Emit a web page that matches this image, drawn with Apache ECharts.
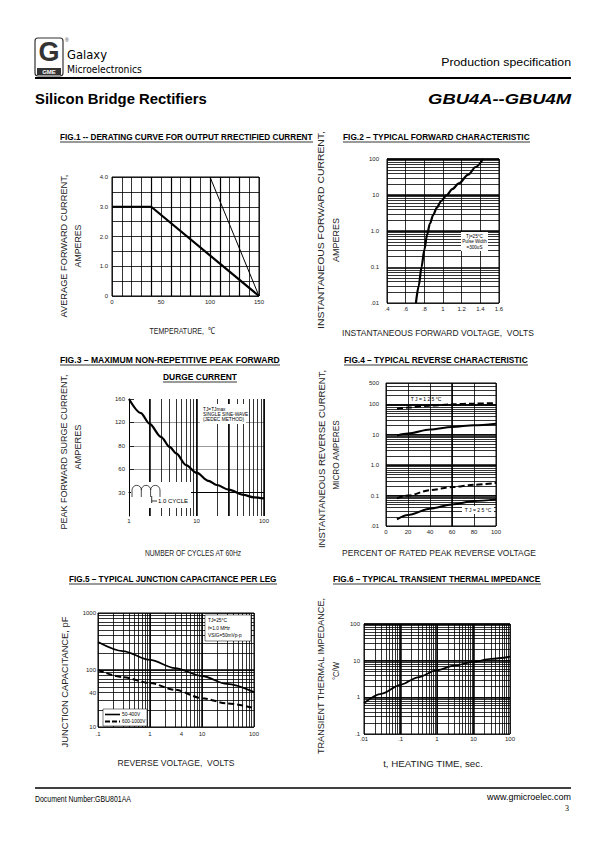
<!DOCTYPE html>
<html>
<head>
<meta charset="utf-8">
<script src="https://cdn.jsdelivr.net/npm/echarts@6.0.0/dist/echarts.min.js"></script>
<style>
html,body{margin:0;padding:0;background:#fff;}
#chart{width:595px;height:842px;}
</style>
</head>
<body>
<div id="chart"></div>
<script>
// ================= DATA =================
// FIG.1 derating curve
const fig1TempTicks = [0, 50, 100, 150];
const fig1CurrTicks = [0, 1, 2, 3, 4];
const fig1CurrText = ['0', '1.0', '2.0', '3.0', '4.0'];
const fig1BoldTemp = [0, 40, 150];
const fig1BoldCurr = [3, 3, 0];
const fig1ThinTemp = [100, 150];
const fig1ThinCurr = [4, 0];
// FIG.2 forward characteristic
const fig2VoltTicks = [0.4, 0.6, 0.8, 1.0, 1.2, 1.4, 1.6];
const fig2VoltText = ['.4', '.6', '.8', '1', '1.2', '1.4', '1.6'];
const fig2AmpTicks = [0.01, 0.1, 1, 10, 100];
const fig2AmpText = ['.01', '0.1', '1.0', '10', '100'];
const fig2Volts = [0.71, 0.74, 0.77, 0.80, 0.83, 0.86, 0.895, 0.935, 0.98, 1.04, 1.10, 1.17, 1.27, 1.35, 1.43];
const fig2Amps  = [0.01, 0.03, 0.1, 0.3, 0.8, 1.6, 2.8, 4.5, 6.8, 10, 14.5, 21, 37, 60, 100];
// FIG.3 surge current
const fig3CycleTicks = [1, 10, 100];
const fig3CycleText = ['1', '10', '100'];
const fig3AmpTicks = [0, 40, 80, 120, 160];
const fig3AmpText = ['30', '60', '80', '120', '160'];
const fig3GrayLines = [40, 80, 120];
const fig3Cycles = [1, 1.5, 2, 3, 4, 5, 7, 10, 15, 20, 30, 50, 70, 100];
const fig3Amps   = [160, 136, 118, 95, 78, 67, 47, 34, 20, 13, 5, -4, -8, -10];
// FIG.4 reverse characteristic
const fig4PctTicks = [0, 20, 40, 60, 80, 100];
const fig4CurTicks = [0.01, 0.1, 1, 10, 100, 500];
const fig4CurText = ['.01', '0.1', '1.0', '10', '100', '500'];
const fig4Pct = [10, 20, 40, 60, 80, 100];
const fig4HotDashed  = [72, 78, 90, 100, 105, 110];
const fig4HotSolid   = [9.4, 10.9, 14.8, 18, 20.5, 23];
const fig4ColdDashed = [0.081, 0.1, 0.151, 0.19, 0.225, 0.26];
const fig4ColdSolid  = [0.0166, 0.023, 0.037, 0.051, 0.066, 0.075];
// FIG.5 junction capacitance
const fig5VoltTicks = [0.1, 1, 4, 10, 100];
const fig5VoltText = ['.1', '1', '4', '10', '100'];
const fig5CapTicks = [10, 40, 100, 1000];
const fig5CapText = ['10', '40', '100', '1000'];
const fig5Volts = [0.1, 0.3, 1, 3, 10, 30, 100];
const fig5Low  = [310, 215, 150, 108, 78.5, 57, 41];   // 50-400V
const fig5High = [100, 75, 59, 45, 32, 26, 21.5];      // 600-1000V
// FIG.6 transient thermal impedance
const fig6TimeTicks = [0.01, 0.1, 1, 10, 100];
const fig6TimeText = ['.01', '.1', '1', '10', '100'];
const fig6ZTicks = [0.1, 1, 10, 100];
const fig6ZText = ['.1', '1', '10', '100'];
const fig6Time = [0.01, 0.03, 0.1, 0.3, 1, 3, 10, 30, 100];
const fig6Z    = [0.7, 1.25, 2.2, 3.5, 5.5, 7.3, 9.3, 11.2, 12.8];

// ================= HELPERS =================
function logTicks(min, max) {
  const out = [];
  for (let e = Math.floor(Math.log10(min)); e <= Math.ceil(Math.log10(max)); e++) {
    for (let m = 1; m < 10; m++) {
      const v = +(m * Math.pow(10, e)).toPrecision(6);
      if (v >= min * 0.9999 && v <= max * 1.0001) out.push(v);
    }
  }
  return out;
}
function fmt(vals, texts) {
  return function (v) {
    const i = vals.findIndex(x => Math.abs(x - v) <= Math.abs(x) * 1e-6 + 1e-9);
    return i >= 0 ? texts[i] : '';
  };
}
const zip = (a, b) => a.map((v, i) => [v, b[i]]);
const LBL = { fontFamily: 'Liberation Sans', fontSize: 6, color: '#222' };
const GL = { color: '#000', width: 0.8 };
const ML = { color: '#000', width: 1.5 };
function ax(o) {
  return Object.assign({
    axisLine: { show: false }, axisTick: { show: false },
    splitLine: { show: true, lineStyle: GL }, axisLabel: { show: false }, silent: true
  }, o);
}
function gridLines(gridIndex, type, min, max, vals, dim, style) {
  return ax({ gridIndex, type, min, max, position: dim === 'x' ? 'bottom' : 'left',
    axisTick: { show: false, customValues: vals }, splitLine: { show: true, lineStyle: style } });
}
function labelsOnly(o) { return ax(Object.assign({ splitLine: { show: false } }, o)); }

// ================= AXES =================
const xAxes = [
  ax({ gridIndex: 0, type: 'value', min: 0, max: 150, interval: 10,
       axisLabel: Object.assign({ show: true, margin: 3, customValues: fig1TempTicks }, LBL) }),
  ax({ gridIndex: 1, type: 'value', min: 0.4, max: 1.6,
       axisTick: { show: false, customValues: fig2VoltTicks },
       axisLabel: Object.assign({ show: true, margin: 3, customValues: fig2VoltTicks, formatter: fmt(fig2VoltTicks, fig2VoltText) }, LBL) }),
  labelsOnly({ gridIndex: 2, type: 'log', min: 1, max: 100,
       axisLine: { show: true, lineStyle: { color: '#000', width: 1 } },
       axisLabel: Object.assign({ show: true, margin: 2, customValues: fig3CycleTicks, formatter: fmt(fig3CycleTicks, fig3CycleText) }, LBL) }),
  ax({ gridIndex: 3, type: 'value', min: 0, max: 100,
       axisTick: { show: false, customValues: fig4PctTicks },
       axisLabel: Object.assign({ show: true, margin: 3, customValues: fig4PctTicks }, LBL) }),
  labelsOnly({ gridIndex: 4, type: 'log', min: 0.1, max: 100,
       axisLabel: Object.assign({ show: true, margin: 4, customValues: fig5VoltTicks, formatter: fmt(fig5VoltTicks, fig5VoltText) }, LBL) }),
  labelsOnly({ gridIndex: 5, type: 'log', min: 0.01, max: 100,
       axisLabel: Object.assign({ show: true, margin: 2, customValues: fig6TimeTicks, formatter: fmt(fig6TimeTicks, fig6TimeText) }, LBL) }),
  gridLines(2, 'log', 1, 100, logTicks(1, 100), 'x', GL),
  gridLines(4, 'log', 0.1, 100, logTicks(0.1, 100), 'x', GL),
  gridLines(5, 'log', 0.01, 100, logTicks(0.01, 100), 'x', GL),
  gridLines(2, 'log', 1, 100, [2, 10, 30, 100], 'x', ML),
  gridLines(4, 'log', 0.1, 100, [1, 10], 'x', ML),
  gridLines(5, 'log', 0.01, 100, [0.1, 1, 10], 'x', ML),
  gridLines(3, 'value', 0, 100, [60], 'x', ML),
  gridLines(0, 'value', 0, 150, [40, 60, 80, 100, 110, 130], 'x', { color: '#000', width: 1.2 })
];
const yAxes = [
  ax({ gridIndex: 0, type: 'value', min: 0, max: 4, interval: 0.5,
       axisLabel: Object.assign({ show: true, margin: 4, customValues: fig1CurrTicks, formatter: fmt(fig1CurrTicks, fig1CurrText) }, LBL) }),
  labelsOnly({ gridIndex: 1, type: 'log', min: 0.01, max: 100,
       axisLabel: Object.assign({ show: true, margin: 8, customValues: fig2AmpTicks, formatter: fmt(fig2AmpTicks, fig2AmpText) }, LBL) }),
  labelsOnly({ gridIndex: 2, type: 'value', min: -40, max: 160,
       axisLine: { show: true, lineStyle: { color: '#000', width: 1 } },
       axisTick: { show: true, inside: true, length: 5, customValues: fig3AmpTicks, lineStyle: { color: '#000', width: 0.8 } },
       axisLabel: Object.assign({ show: true, margin: 4, customValues: fig3AmpTicks, formatter: fmt(fig3AmpTicks, fig3AmpText) }, LBL) }),
  labelsOnly({ gridIndex: 3, type: 'log', min: 0.01, max: 500,
       axisLabel: Object.assign({ show: true, margin: 7, customValues: fig4CurTicks, formatter: fmt(fig4CurTicks, fig4CurText) }, LBL) }),
  labelsOnly({ gridIndex: 4, type: 'log', min: 10, max: 1000,
       axisLabel: Object.assign({ show: true, margin: 2, customValues: fig5CapTicks, formatter: fmt(fig5CapTicks, fig5CapText) }, LBL) }),
  labelsOnly({ gridIndex: 5, type: 'log', min: 0.1, max: 100,
       axisLabel: Object.assign({ show: true, margin: 4, customValues: fig6ZTicks, formatter: fmt(fig6ZTicks, fig6ZText) }, LBL) }),
  gridLines(2, 'value', -40, 160, fig3GrayLines, 'y', { color: '#999', width: 1 }),
  gridLines(1, 'log', 0.01, 100, logTicks(0.01, 100), 'y', GL),
  gridLines(3, 'log', 0.01, 500, logTicks(0.01, 500), 'y', GL),
  gridLines(4, 'log', 10, 1000, logTicks(10, 1000), 'y', GL),
  gridLines(5, 'log', 0.1, 100, logTicks(0.1, 100), 'y', GL),
  gridLines(1, 'log', 0.01, 100, [1, 10, 100], 'y', ML),
  gridLines(3, 'log', 0.01, 500, [0.1, 1, 10, 100], 'y', ML),
  gridLines(4, 'log', 10, 1000, [100], 'y', ML),
  gridLines(5, 'log', 0.1, 100, [1, 10, 100], 'y', ML)
];

const BORDER = { show: true, borderColor: '#000', borderWidth: 1, backgroundColor: 'transparent' };
const grids = [
  Object.assign({ left: 112, top: 177, width: 147, height: 119 }, BORDER),
  Object.assign({ left: 387, top: 159, width: 112, height: 144 }, BORDER),
  { left: 129, top: 399, width: 135, height: 117 },
  Object.assign({ left: 386, top: 383, width: 110, height: 143 }, BORDER),
  Object.assign({ left: 98, top: 613, width: 156, height: 114 }, BORDER),
  Object.assign({ left: 364, top: 624, width: 146, height: 110 }, BORDER)
];

function line(name, xi, yi, data, width, dashed, smooth) {
  return { name, type: 'line', xAxisIndex: xi, yAxisIndex: yi, data, symbol: 'none', silent: true,
    smooth: smooth ? 0.3 : false, smoothMonotone: 'x', z: 5,
    lineStyle: { color: '#000', width, type: dashed ? [6, 3] : 'solid' } };
}
const series = [
  line('fig1-bold', 0, 0, zip(fig1BoldTemp, fig1BoldCurr), 2.2, false, false),
  line('fig1-thin', 0, 0, zip(fig1ThinTemp, fig1ThinCurr), 1, false, false),
  line('fig2', 1, 1, zip(fig2Volts, fig2Amps), 2.2, false, true),
  line('fig3', 2, 2, zip(fig3Cycles, fig3Amps), 2.2, false, true),
  line('fig4-hot-dashed', 3, 3, zip(fig4Pct, fig4HotDashed), 2, true, true),
  line('fig4-hot-solid', 3, 3, zip(fig4Pct, fig4HotSolid), 2, false, true),
  line('fig4-cold-dashed', 3, 3, zip(fig4Pct, fig4ColdDashed), 2, true, true),
  line('fig4-cold-solid', 3, 3, zip(fig4Pct, fig4ColdSolid), 2, false, true),
  line('50-400V', 4, 4, zip(fig5Volts, fig5Low), 1.8, false, true),
  line('600-1000V', 4, 4, zip(fig5Volts, fig5High), 2, true, true),
  line('fig6', 5, 5, zip(fig6Time, fig6Z), 1.8, false, true)
];

// ================= TEXT / GRAPHIC =================
const mctx = document.createElement('canvas').getContext('2d');
function measure(t, size, weight, family, style) {
  mctx.font = `${style || 'normal'} ${weight || 'normal'} ${size}px "${family}"`;
  return mctx.measureText(t).width;
}
function txt(t, x, y, o) {
  o = o || {};
  const size = o.size || 9, weight = o.weight || 'normal', family = o.family || 'Liberation Sans';
  let sx = 1;
  if (o.w) sx = o.w / measure(t, size, weight, family, o.style);
  return { type: 'text', x, y, rotation: o.rot || 0, scaleX: sx, silent: true, z: 100,
    style: { text: t, fontSize: size, fontWeight: weight, fontFamily: family, fontStyle: o.style || 'normal',
      fill: o.color || '#000', align: o.align || 'left', verticalAlign: o.va || 'middle' } };
}
function ln(x1, y1, x2, y2, w, c, dash) {
  return { type: 'line', silent: true, z: 100, shape: { x1, y1, x2, y2 },
    style: { stroke: c || '#000', lineWidth: w || 1, lineDash: dash || null } };
}
function rect(x, y, w, h, o) {
  o = o || {};
  return { type: 'rect', silent: true, z: o.z || 90, shape: { x, y, width: w, height: h, r: o.r || 0 },
    style: { fill: o.fill || '#fff', stroke: o.stroke || null, lineWidth: o.lw || 0 } };
}
const G = [];
// header
G.push(rect(35, 38, 28, 38, { r: 3, fill: '#fff', stroke: '#333', lw: 1.2 }));
G.push(txt('G', 49, 52, { size: 27, weight: 'bold', align: 'center', color: '#333' }));
G.push(rect(37, 68, 24, 7, { fill: '#333' }));
G.push(txt('GME', 49, 71.5, { size: 6, weight: 'bold', align: 'center', color: '#fff' }));
G.push(txt('®', 65, 40, { size: 5, color: '#333' }));
G.push(txt('Galaxy', 67, 55, { size: 11.5, family: 'DejaVu Sans', w: 40 }));
G.push(txt('Microelectronics', 67, 69, { size: 10, family: 'DejaVu Sans', w: 75 }));
G.push(txt('Production specification', 571, 62, { size: 10.5, align: 'right', w: 130 }));
G.push(ln(35, 78, 571, 78, 2));
G.push(txt('Silicon Bridge Rectifiers', 35, 99, { size: 14.5, weight: 'bold', w: 172 }));
G.push(txt('GBU4A--GBU4M', 571, 99, { size: 15, weight: 'bold', style: 'italic', align: 'right', w: 143 }));
// footer
G.push(ln(35, 788, 571, 788, 1.5));
G.push(txt('Document Number:GBU801AA', 35, 799, { size: 8.5, w: 96 }));
G.push(txt('www.gmicroelec.com', 571, 797, { size: 8.5, align: 'right', w: 84 }));
G.push(txt('3', 569, 808, { size: 8, family: 'Liberation Serif', align: 'right' }));
// figure titles [text, x1, x2, y]
const titles = [
  ['FIG.1 -- DERATING CURVE FOR OUTPUT RRECTIFIED CURRENT', 60, 313, 137],
  ['FIG.2 – TYPICAL FORWARD CHARACTERISTIC', 343, 530, 137],
  ['FIG.3 – MAXIMUM NON-REPETITIVE PEAK FORWARD', 60, 280, 360],
  ['DURGE CURRENT', 163, 237, 377],
  ['FIG.4 – TYPICAL REVERSE CHARACTERISTIC', 344, 528, 360],
  ['FIG.5 – TYPICAL JUNCTION CAPACITANCE PER LEG', 69, 277, 579],
  ['FIG.6 – TYPICAL TRANSIENT THERMAL IMPEDANCE', 333, 541, 579]
];
titles.forEach(([t, x1, x2, y]) => {
  G.push(txt(t, x1, y, { size: 9, weight: 'bold', w: x2 - x1 }));
  G.push(ln(x1, y + 5, x2, y + 5, 0.8));
});
// axis titles [text, cx, cy, length, rotated]
const axisTitles = [
  ['AVERAGE FORWARD CURRENT,', 64, 246, 143, true],
  ['AMPERES', 78, 246, 43, true],
  ['TEMPERATURE,  ℃', 182, 331, 65, false],
  ['INSTANTANEOUS FORWARD CURRENT,', 321, 230, 198, true],
  ['AMPERES', 336, 240, 44, true],
  ['INSTANTANEOUS FORWARD VOLTAGE,  VOLTS', 438, 333, 192, false],
  ['PEAK FORWARD SURGE CURRENT,', 64, 452, 155, true],
  ['AMPERES', 78, 447, 45, true],
  ['NUMBER OF CYCLES AT 60Hz', 193, 553, 97, false],
  ['INSTANTANEOUS REVERSE CURRENT,', 321, 459, 178, true],
  ['MICRO AMPERES', 336, 455, 70, true],
  ['PERCENT OF RATED PEAK REVERSE VOLTAGE', 439, 553, 194, false],
  ['JUNCTION CAPACITANCE, pF', 64, 682, 131, true],
  ['REVERSE VOLTAGE,  VOLTS', 176, 763, 117, false],
  ['TRANSIENT THERMAL IMPEDANCE,', 321, 676, 157, true],
  ['°C/W', 336, 671, 18, true],
  ['t, HEATING TIME, sec.', 433, 764, 100, false]
];
axisTitles.forEach(([t, x, y, w, r]) => {
  G.push(txt(t, x, y, { size: 9.5, w, align: 'center', rot: r ? Math.PI / 2 : 0, color: '#222' }));
});
// FIG.2 note box
G.push(rect(461, 232, 27, 19, { fill: '#fff' }));
G.push(txt('Tj=25°C', 474.5, 236, { size: 4.6, align: 'center' }));
G.push(txt('Pulse Width', 474.5, 241.5, { size: 4.6, align: 'center' }));
G.push(txt('=300uS', 474.5, 247, { size: 4.6, align: 'center' }));
// FIG.3 note box + cycle sketch
G.push(rect(200, 404, 46, 20, { fill: '#fff' }));
G.push(txt('TJ=TJmax', 203, 409, { size: 4.8 }));
G.push(txt('SINGLE SINE-WAVE', 203, 414, { size: 4.8 }));
G.push(txt('(JEDEC METHOD)', 203, 419, { size: 4.8 }));
G.push(rect(131, 482, 60, 26, { fill: '#fff', z: 80 }));
[136.7, 146, 155.3].forEach(cx => {
  G.push({ type: 'arc', silent: true, z: 100, shape: { cx, cy: 490, r: 4.65, startAngle: Math.PI, endAngle: 2 * Math.PI, clockwise: true },
    style: { stroke: '#000', fill: null, lineWidth: 0.7 } });
});
[132, 141.3, 150.6, 160].forEach(x => G.push(ln(x, 490, x, 497, 0.7)));
G.push(ln(151.7, 496, 151.7, 503, 0.8));
G.push(ln(151.7, 501, 157, 501, 0.8));
G.push(txt('1.0 CYCLE', 158, 501, { size: 5.5, w: 30 }));
// FIG.4 labels
G.push(txt('T J = 1 2 5 °C', 426, 399, { size: 5, align: 'center' }));
G.push(rect(462, 506, 32, 8, { fill: '#fff' }));
G.push(txt('T J = 2 5 °C', 478, 510, { size: 5, align: 'center' }));
// FIG.5 boxes
G.push(rect(205, 615, 46, 26, { fill: '#fff', stroke: '#000', lw: 0.5 }));
G.push(txt('TJ=25°C', 208, 620, { size: 4.8 }));
G.push(txt('f=1.0 MHz', 208, 628, { size: 4.8 }));
G.push(txt('VSIG=50mVp-p', 208, 635.5, { size: 4.8 }));
G.push(rect(103, 709, 44, 17, { fill: '#fff', stroke: '#000', lw: 0.5 }));
G.push(ln(105, 714.5, 120, 714.5, 1.6));
G.push(txt('50-400V', 122, 714.5, { size: 4.8 }));
G.push(ln(105, 721.5, 120, 721.5, 2, '#000', [5, 2]));
G.push(txt('600-1000V', 122, 721.5, { size: 4.8 }));

// ================= CHART =================
const chart = echarts.init(document.getElementById('chart'), null, { renderer: 'svg', width: 595, height: 842 });
chart.setOption({
  animation: false, backgroundColor: '#fff', textStyle: { fontFamily: 'Liberation Sans' },
  grid: grids, xAxis: xAxes, yAxis: yAxes, series: series, graphic: { elements: G }
});
</script>
</body>
</html>
